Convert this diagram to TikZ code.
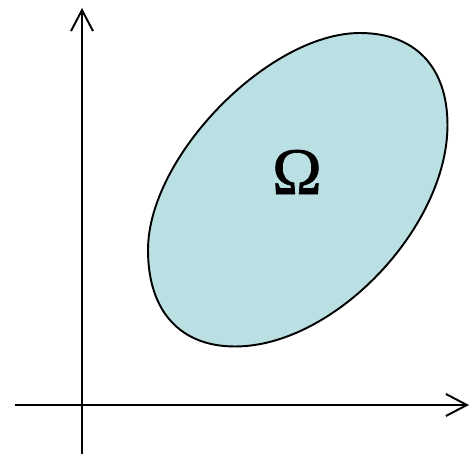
\documentclass[tikz,border=0pt]{standalone}
\usepackage{fontspec}
\newfontfamily\omegafont[FakeBold=1]{Liberation Serif}
\usetikzlibrary{arrows.meta}
\definecolor{domainfill}{RGB}{187,224,227}

\begin{document}
\begin{tikzpicture}[scale=1.0]
	\useasboundingbox (-1.64,-1.02) rectangle (7.76,8.1);
	\coordinate (xstart) at (-1.34,0);
	\coordinate (xend) at (7.74,0);
	\coordinate (ystart) at (0,-0.98);
	\coordinate (yend) at (0,7.94);
	\draw[line width=1.1pt, -{Straight Barb[length=4.2mm, width=4.4mm]}] (xstart) -- (xend);
	\draw[line width=1.1pt, -{Straight Barb[length=4.2mm, width=4.4mm]}] (ystart) -- (yend);
	% extreme points of the domain
	\coordinate (top) at (5.56,7.44);
	\coordinate (right) at (7.31,5.60);
	\coordinate (bottom) at (3.06,1.17);
	\coordinate (left) at (1.32,3.10);
	\draw[line width=1.1pt, fill=domainfill] (top)
		.. controls (6.66,7.44) and (7.31,6.76) .. (right)
		.. controls (7.31,3.55) and (5.04,1.17) .. (bottom)
		.. controls (1.96,1.17) and (1.32,1.88) .. (left)
		.. controls (1.32,4.97) and (3.74,7.44) .. (top) -- cycle;
	\node (omega) at (4.3,4.66) {\fontsize{38}{42}\selectfont\omegafont Ω};
\end{tikzpicture}
\end{document}
